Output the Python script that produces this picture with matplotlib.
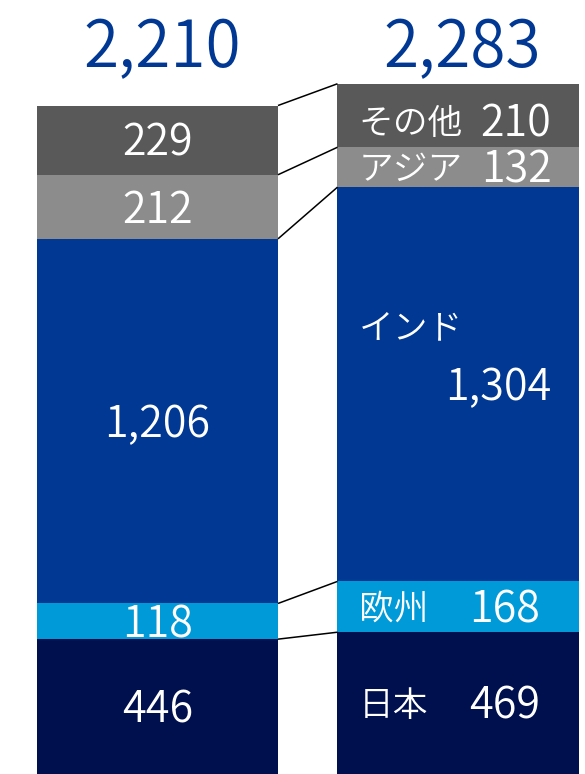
import matplotlib
matplotlib.use('Agg')
import matplotlib.pyplot as plt
import numpy as np

plt.rcParams['font.family'] = ['Noto Sans CJK JP', 'DejaVu Sans']

# data (bottom -> top)
regions = ["日本", "欧州", "インド", "アジア", "その他"]
left_vals = [446, 118, 1206, 212, 229]
right_vals = [469, 168, 1304, 132, 210]
totals = [2210, 2283]
colors = ["#00104F", "#009AD9", "#003893", "#8C8C8C", "#595959"]
title_color = "#003893"

fig = plt.figure(figsize=(5.85, 7.74), dpi=100)
ax = fig.add_axes([0, 0, 1, 1])
ax.set_xlim(-0.524, 1.4226)
ax.set_ylim(0, 2560)
ax.axis('off')

width = 0.802
xs = [0, 1]
FS = 31     # numbers
FS_JP = 25  # region names
WEIGHT = 350

def place(x, y, s, ha, fs=FS, dy=0):
    # vertically centre the cap height on y
    ax.annotate(s, xy=(x, y), xytext=(0, -0.366 * fs + dy), textcoords='offset points',
                ha=ha, va='baseline', color='white', fontsize=fs, fontweight=WEIGHT)

left_cum = np.concatenate([[0], np.cumsum(left_vals)])
right_cum = np.concatenate([[0], np.cumsum(right_vals)])

for i in range(len(regions)):
    ax.bar(xs[0], left_vals[i], width, bottom=left_cum[i], color=colors[i], linewidth=0)
    ax.bar(xs[1], right_vals[i], width, bottom=right_cum[i], color=colors[i], linewidth=0)

# connector lines
for i in range(1, len(regions) + 1):
    ax.plot([xs[0] + width / 2, xs[1] - width / 2], [left_cum[i], right_cum[i]],
            color='black', lw=1.1, solid_capstyle='butt')

# left bar labels
for i, v in enumerate(left_vals):
    place(xs[0], left_cum[i] + v / 2, f"{v:,}", 'center')

# right bar labels
rl = xs[1] - width / 2
name_x = rl + 0.07
for i, v in enumerate(right_vals):
    mid = right_cum[i] + v / 2
    if regions[i] == "インド":
        place(name_x, mid, regions[i], 'left', fs=FS_JP, dy=42.5)
        place(rl + 0.712, mid, f"{v:,}", 'right')
    elif regions[i] in ("日本", "欧州"):
        place(name_x, mid, regions[i], 'left', fs=FS_JP)
        place(rl + 0.555, mid, f"{v:,}", 'center')
    else:
        place(name_x, mid, regions[i], 'left', fs=FS_JP, dy=-4 if i == 4 else 0)
        place(rl + 0.712, mid, f"{v:,}", 'right', dy=-4 if i == 4 else 0)

# totals
for x, t in zip(xs, totals):
    ax.text(x + 0.015, 2339, f"{t:,}", ha='center', va='baseline',
            color=title_color, fontsize=46, fontweight=WEIGHT)

fig.savefig('out.png', dpi=100)
